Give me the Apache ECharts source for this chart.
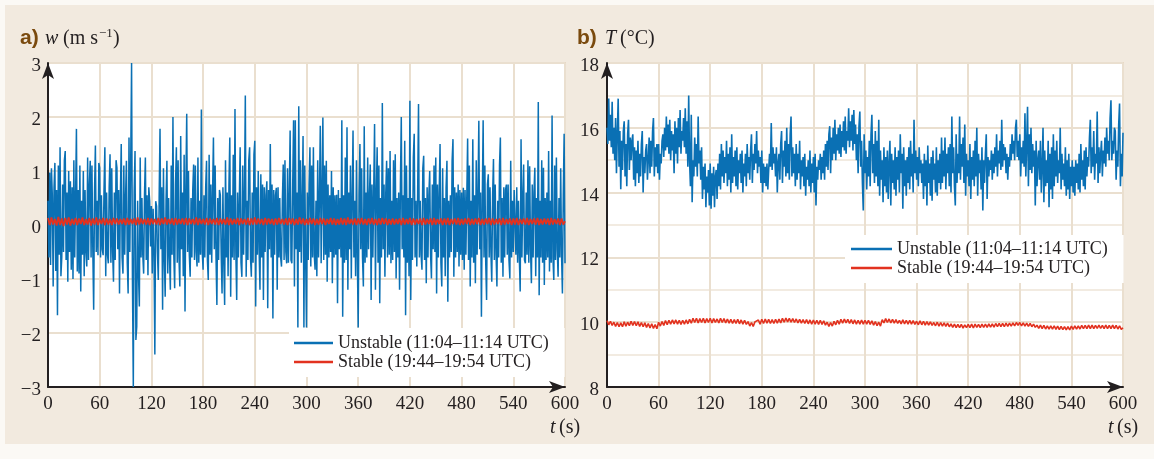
<!DOCTYPE html>
<html>
<head>
<meta charset="utf-8">
<script src="https://cdn.jsdelivr.net/npm/echarts@6.0.0/dist/echarts.min.js"></script>
<style>
  html, body { margin: 0; padding: 0; background: #fbf9f5; }
  #panel { position: absolute; left: 5px; top: 5px; width: 1149px; height: 439px; background: #f2eadf; }
  #chart { position: absolute; left: 0; top: 0; width: 1154px; height: 459px; }
</style>
</head>
<body>
<div id="panel"></div>
<div id="chart"></div>
<script>
// Time axis (s) and tick values
const timeTicks = [0, 60, 120, 180, 240, 300, 360, 420, 480, 540, 600];
const wTicks = [-3, -2, -1, 0, 1, 2, 3];
const tempTicks = [8, 10, 12, 14, 16, 18];

// Series labels
const unstableName = 'Unstable (11:04–11:14 UTC)';
const stableName = 'Stable (19:44–19:54 UTC)';

// Sampling steps (s) of the stored records
const unstableStep = 1;
const stableStep = 2;

// a) vertical velocity w (m/s), unstable case, one value per second
const wUnstable = [
  0.45,-0.6,0.97,-0.74,1.05,0.55,-1.14,0.7,1.15,-0.85,
  0.65,-1.67,1.1,-0.55,1.44,-0.95,-0.59,0.75,-0.5,1.2,
  1.37,-0.65,0.6,-1.05,1.0,-0.5,0.81,-0.83,0.7,-1.0,
  1.2,-0.6,0.5,1.78,-0.86,0.65,-0.9,1.1,-1.23,0.45,
  -0.55,1.0,-0.95,0.65,-0.5,-0.77,1.25,-0.65,0.75,1.19,
  -0.6,1.1,-0.45,-1.57,0.6,1.47,-0.5,0.45,-0.56,1.15,
  1.06,-0.6,0.55,-0.45,-0.56,0.65,1.44,-0.95,0.6,-0.55,
  -0.71,0.7,1.31,-0.7,1.05,-0.5,-1.05,0.6,-0.65,1.2,
  1.06,-0.45,0.65,-1.27,0.55,1.5,-0.6,-0.9,1.1,-0.55,
  0.5,1.19,-0.7,-1.27,1.62,-0.5,1.2,3.0,-1.0,-3.0,
  0.6,1.37,-2.13,-1.88,0.45,-0.9,-1.51,1.25,-0.6,0.5,
  -0.55,-0.9,0.55,1.25,-0.65,0.55,-0.93,0.7,0.44,-0.4,
  0.35,-0.9,0.3,-0.5,-2.4,0.44,0.35,-0.5,-1.02,0.5,
  1.78,-0.45,0.7,-1.57,1.05,-0.6,-1.33,0.45,1.19,-0.9,
  0.5,-0.6,-1.2,1.1,-0.55,2.0,-0.55,-1.17,0.75,1.44,
  -0.7,1.2,-0.6,-1.14,1.65,-0.45,0.6,-0.95,1.3,-1.6,
  0.7,2.06,-0.5,1.0,-0.55,-0.96,0.5,-0.6,0.65,1.12,
  -0.65,1.1,-0.5,-0.77,1.25,-0.7,0.45,-0.55,2.14,-0.5,
  -0.83,0.55,-0.6,0.7,1.19,-0.65,-1.02,1.3,-0.55,0.75,
  -0.7,0.6,1.62,-0.45,1.1,-0.6,-1.48,0.5,-0.65,0.65,
  0.56,-0.55,-1.27,0.7,-0.7,-1.48,1.2,-0.6,0.6,-0.95,
  0.75,1.62,-1.33,0.55,-0.6,1.3,-0.65,2.15,-0.5,-1.39,
  0.6,-0.6,0.45,1.44,-0.7,-0.96,1.1,-0.55,0.5,2.4,
  -0.96,0.45,-0.65,1.2,1.44,-0.6,-0.96,0.6,-0.7,1.3,
  1.56,-1.51,0.7,-0.55,1.0,-0.45,-1.2,0.94,-0.6,0.75,
  -1.39,0.7,-0.5,0.55,0.81,-1.54,0.65,-0.45,1.5,-0.6,
  0.75,-1.73,0.65,-0.55,0.55,0.69,-1.2,0.7,-0.6,0.5,
  -0.6,-0.77,0.45,1.12,-0.65,1.2,-0.5,-0.71,1.05,-0.7,
  0.55,1.75,-0.65,-0.71,0.75,1.94,-1.14,1.94,-0.45,0.6,
  -1.9,2.2,-0.5,1.2,-0.7,0.45,1.65,-1.9,1.1,-0.6,
  -1.9,0.6,-0.65,0.75,1.44,-0.77,1.1,-0.6,1.44,-0.55,
  -0.83,0.45,-0.95,1.2,-0.6,0.5,1.84,-0.71,0.6,1.99,
  -0.65,1.1,-0.55,1.19,-1.05,0.75,-0.6,0.55,-0.5,1.0,
  -1.08,0.7,-0.6,0.55,-0.55,0.56,-1.45,0.65,-0.45,0.5,
  -0.6,1.94,-1.7,0.55,-0.7,1.25,-0.65,1.81,-1.2,0.6,
  -0.45,1.1,-0.99,0.5,1.75,-0.6,0.45,-0.95,1.2,-0.6,
  -1.9,0.55,1.5,-0.45,1.05,-0.6,-1.14,1.83,-0.7,0.6,
  -0.6,1.25,-0.45,0.5,1.12,-1.39,0.75,-0.6,0.6,1.87,
  -1.2,0.55,1.44,-0.7,1.1,-1.45,0.5,-0.6,2.26,-0.45,
  0.75,-0.96,0.6,1.19,-0.6,1.05,-0.55,1.37,-0.71,0.45,
  -0.65,1.2,-0.5,1.31,-0.99,0.5,-0.6,0.6,-1.2,0.75,
  2.0,-0.45,0.55,-0.6,1.56,-1.67,1.1,-0.7,0.5,-0.95,
  2.3,-1.39,0.5,-0.65,1.25,1.69,-0.6,0.45,-0.77,0.6,
  2.24,-0.6,0.45,-0.55,-0.83,1.05,1.28,-0.65,0.5,-1.08,
  0.7,-0.6,0.55,1.0,-0.55,-0.99,0.75,-0.45,1.1,-0.5,
  1.25,-1.27,0.75,-0.6,0.6,1.5,-0.7,-1.14,1.05,-0.6,
  0.5,-0.95,0.7,1.19,-1.42,0.45,-0.6,0.55,-0.5,1.2,
  1.59,-0.96,0.7,-0.6,0.6,-0.5,0.75,-0.77,0.65,-0.55,
  0.6,-0.65,0.69,-0.83,0.65,-0.55,0.5,1.6,-0.65,1.1,
  -1.14,0.45,-0.6,1.59,-0.7,0.55,-1.08,1.2,-0.55,0.5,
  1.93,-0.45,0.6,-1.7,0.45,1.94,-0.6,1.1,-0.7,-1.39,
  0.75,0.94,-0.6,0.7,-0.5,-1.05,0.55,1.22,-0.65,0.75,
  -0.55,-1.14,0.45,-0.6,1.1,1.62,-0.7,0.5,-0.96,0.7,
  -0.6,0.65,0.75,-0.55,0.75,-0.65,-0.99,1.19,-0.6,0.45,
  -0.5,0.65,0.62,-0.55,0.7,-0.7,0.45,-0.6,-1.23,1.59,
  -0.6,0.5,1.12,-0.65,-0.71,0.6,-0.55,1.2,-0.7,1.09,
  -0.45,-1.08,0.75,-0.6,0.6,1.06,-0.95,0.5,-0.6,2.28,
  -1.3,0.45,-0.6,1.2,-0.7,1.06,-1.11,0.5,-0.65,0.6,
  -0.6,1.37,-0.86,0.45,-0.7,2.03,-0.6,-1.02,1.1,-0.65,
  1.25,-0.45,-0.96,0.5,-0.6,1.05,-0.55,-1.27,0.55,1.69,
  -0.71
];

// a) vertical velocity w (m/s), stable case, one value every 2 s
const wStable = [
  0.13,0.0,0.14,0.01,0.11,-0.01,0.15,0.0,0.12,-0.02,
  0.13,0.01,0.14,-0.01,0.11,0.01,0.13,0.0,0.12,0.02,
  0.14,0.0,0.11,0.01,0.13,-0.01,0.12,0.01,0.14,0.0,
  0.11,0.02,0.13,0.0,0.12,0.01,0.11,0.0,0.13,0.02,
  0.12,0.01,0.11,0.02,0.12,0.0,0.13,0.01,0.11,0.02,
  0.12,0.0,0.14,0.01,0.12,0.02,0.11,0.01,0.13,0.0,
  0.12,0.02,0.11,0.01,0.13,0.0,0.12,0.02,0.14,0.01,
  0.11,0.02,0.12,0.0,0.13,0.01,0.11,0.02,0.12,0.01,
  0.13,0.0,0.12,0.02,0.11,0.01,0.14,0.0,0.12,0.02,
  0.11,0.01,0.13,0.0,0.12,0.02,0.11,0.01,0.13,0.0,
  0.12,0.02,0.11,0.01,0.14,0.0,0.12,0.01,0.11,0.02,
  0.13,0.0,0.12,0.02,0.11,0.01,0.13,0.0,0.12,0.01,
  0.14,0.01,0.12,0.02,0.11,0.0,0.13,0.01,0.12,0.02,
  0.11,0.0,0.12,0.01,0.13,0.02,0.11,0.01,0.12,0.0,
  0.13,0.02,0.12,0.0,0.11,0.01,0.14,0.02,0.12,0.0,
  0.11,0.01,0.13,0.02,0.12,0.0,0.11,0.01,0.13,0.02,
  0.12,0.0,0.11,0.02,0.13,0.01,0.12,0.0,0.11,0.01,
  0.13,0.01,0.12,0.0,0.14,0.02,0.11,0.01,0.12,0.0,
  0.12,0.02,0.13,0.01,0.11,0.0,0.12,0.02,0.13,0.01,
  0.11,0.0,0.12,0.01,0.13,0.02,0.12,0.0,0.11,0.01,
  0.12,0.01,0.11,0.02,0.12,0.0,0.13,0.01,0.11,0.02,
  0.13,0.0,0.12,0.01,0.11,0.02,0.12,0.0,0.13,0.01,
  0.11,0.02,0.12,0.0,0.13,0.01,0.11,0.02,0.12,0.0,
  0.12,0.01,0.13,0.0,0.11,0.02,0.12,0.01,0.13,0.0,
  0.11,0.01,0.12,0.02,0.13,0.0,0.11,0.01,0.12,0.02,
  0.13,0.0,0.11,0.01,0.12,0.02,0.13,0.0,0.12,0.01,
  0.11,0.02,0.12,0.0,0.13,0.01,0.11,0.02,0.12,0.0,
  0.12,0.01,0.13,0.0,0.11,0.02,0.12,0.01,0.13,0.0,
  0.11,0.02,0.12,0.01,0.13,0.0,0.11,0.01,0.12,0.02,
  0.12,0.0,0.13,0.01,0.11,0.02,0.12,0.0,0.12,0.01,
  0.07
];

// b) temperature T (°C), unstable case, one value per second
const tUnstable = [
  16.0,15.5,16.9,15.6,16.4,15.4,16.8,15.2,16.0,15.0,
  16.3,14.6,15.8,16.9,14.8,15.9,14.1,15.6,14.7,15.9,
  16.2,14.5,15.5,14.2,15.8,16.25,14.7,15.7,15.0,15.6,
  15.8,14.4,15.4,14.2,15.3,14.6,15.6,14.3,15.2,14.5,
  15.5,15.9,14.0,15.1,14.6,15.3,15.5,14.4,15.0,15.7,
  14.6,15.6,14.8,15.9,16.3,14.5,15.4,14.8,15.5,14.6,
  15.5,14.4,15.2,14.9,15.6,15.8,15.1,16.0,15.3,16.35,
  15.4,16.1,15.2,16.25,15.0,15.9,15.3,15.8,14.6,16.2,
  15.2,16.0,14.9,16.3,15.4,16.55,15.2,15.9,15.6,16.3,
  15.4,16.6,15.2,16.2,14.8,17.0,15.0,14.2,16.4,13.7,
  15.0,14.5,15.7,14.8,15.5,14.5,16.35,14.9,15.3,14.4,
  15.4,13.8,14.8,14.1,14.9,13.55,14.5,14.0,14.7,13.6,
  14.9,13.5,14.6,13.9,14.8,13.55,14.5,14.7,13.8,14.9,
  14.2,15.2,14.1,15.5,14.5,15.3,14.3,15.1,14.6,15.6,
  14.2,15.2,14.4,15.4,14.0,15.8,14.3,15.1,14.5,15.3,
  14.2,15.4,14.1,15.0,14.6,15.2,14.3,15.3,14.0,14.9,
  14.5,15.2,14.2,15.5,14.6,15.1,14.4,15.3,15.8,14.3,
  15.2,14.7,15.5,14.9,15.9,14.6,15.3,14.8,15.1,14.3,
  15.3,14.0,14.9,14.3,14.8,14.2,14.9,14.1,14.7,15.2,
  14.8,16.15,14.7,15.4,14.9,15.2,14.5,15.4,14.0,14.9,
  15.2,14.4,15.5,15.9,14.3,15.3,14.8,15.6,14.5,16.0,
  14.6,15.5,14.4,15.8,16.35,14.5,15.4,14.6,15.2,14.2,
  15.5,14.4,15.2,14.6,15.6,14.1,15.0,14.5,15.1,14.2,
  15.2,13.9,14.8,14.4,15.0,14.2,15.3,14.0,14.9,14.3,
  15.1,14.0,15.2,13.6,14.8,14.4,15.0,14.7,15.2,14.4,
  15.1,14.6,15.3,14.4,15.5,14.8,15.6,14.7,15.8,16.05,
  14.6,15.7,15.0,16.0,15.2,16.25,15.0,15.8,15.3,16.0,
  15.2,16.1,15.1,15.9,15.4,16.2,15.3,16.35,15.2,15.9,
  15.6,16.6,15.4,16.2,15.6,16.4,15.3,16.55,15.5,16.1,
  15.0,15.8,14.6,16.05,16.5,14.8,15.6,14.3,13.45,15.8,
  14.6,15.3,14.1,15.1,14.5,15.6,14.2,15.8,16.4,14.6,
  15.5,14.3,15.9,14.5,15.6,14.2,16.25,13.9,15.3,14.4,
  15.0,13.7,15.4,14.2,15.1,14.0,15.3,13.8,14.9,15.6,
  13.6,15.2,14.3,15.0,14.1,15.4,13.9,15.1,14.4,15.3,
  14.0,15.8,14.6,15.2,13.5,15.4,14.2,15.0,13.9,15.1,
  14.3,15.4,14.1,15.6,14.5,15.2,14.0,16.25,14.6,15.3,
  14.4,15.1,14.2,15.4,14.6,15.0,14.3,14.9,13.8,15.2,
  14.2,15.0,13.6,15.45,14.3,14.9,13.9,15.1,13.75,15.3,
  14.4,14.9,14.0,15.4,13.9,15.0,14.3,15.2,14.1,15.7,
  14.3,15.3,14.5,15.7,14.1,15.2,14.6,15.4,14.2,15.5,
  14.0,16.35,14.6,15.4,14.2,13.6,15.8,14.3,15.2,14.6,
  16.35,14.4,15.5,14.8,15.7,14.3,16.1,13.9,15.2,14.5,
  15.0,14.2,15.5,13.8,15.1,14.4,15.3,14.2,15.6,14.5,
  16.0,13.9,15.2,14.6,15.0,14.1,15.4,13.45,15.0,14.3,
  15.2,15.8,13.8,15.1,14.5,15.0,14.7,15.3,14.4,15.2,
  14.6,15.4,14.8,15.8,14.5,15.3,14.9,15.6,14.7,16.25,
  14.8,15.5,15.0,15.4,14.6,15.2,14.4,15.1,14.8,15.5,
  15.0,15.8,15.2,15.6,15.0,16.0,16.25,15.1,15.6,15.0,
  15.8,14.5,15.4,14.9,15.6,14.8,16.45,14.5,15.5,16.65,
  14.2,15.8,14.7,16.0,14.6,15.5,14.8,15.3,13.6,15.6,
  14.2,15.0,15.3,14.4,15.6,14.0,14.8,16.0,13.7,15.3,
  14.2,15.0,14.3,15.6,13.55,15.2,14.1,15.4,13.8,15.8,
  14.2,15.3,14.5,15.6,14.3,15.0,14.6,16.0,14.1,15.2,
  14.4,14.9,14.2,15.4,13.9,15.0,14.1,15.2,13.8,14.8,
  14.2,15.0,14.0,14.8,13.9,15.0,14.3,14.9,14.1,15.2,
  14.0,15.5,14.4,15.0,14.2,15.3,14.1,15.4,14.5,15.1,
  14.8,15.7,16.25,14.6,15.4,14.8,15.9,14.4,15.2,14.9,
  16.5,14.3,15.4,14.6,15.2,15.6,14.5,15.3,14.9,15.7,
  14.8,16.0,15.2,15.6,15.0,16.3,16.85,15.0,15.6,15.2,
  16.0,15.9,14.4,15.3,14.8,16.1,16.75,14.2,15.2,14.5,
  15.85
];

// b) temperature T (°C), stable case, one value every 2 s
const tStable = [
  10.05,9.92,10.03,9.9,10.0,9.87,9.99,9.86,9.98,9.86,
  10.01,9.88,10.0,9.89,10.03,9.9,10.02,9.89,10.01,9.87,
  9.99,9.86,9.98,9.84,9.96,9.82,9.95,9.81,9.93,9.8,
  10.0,9.88,10.02,9.9,10.05,9.92,10.06,9.94,10.07,9.95,
  10.07,9.94,10.06,9.93,10.06,9.94,10.07,9.95,10.09,9.97,
  10.12,9.99,10.12,9.98,10.11,9.99,10.12,9.98,10.11,9.99,
  10.12,9.98,10.11,9.99,10.1,9.98,10.12,9.99,10.11,9.98,
  10.1,9.97,10.09,9.96,10.08,9.96,10.09,9.95,10.07,9.94,
  10.06,9.93,10.02,9.88,9.99,9.87,10.01,9.95,10.07,9.94,
  10.09,9.96,10.1,9.97,10.09,9.96,10.08,9.96,10.09,9.97,
  10.1,9.98,10.12,10.0,10.13,10.01,10.12,10.0,10.11,9.99,
  10.1,9.98,10.09,9.97,10.08,9.96,10.08,9.95,10.07,9.94,
  10.07,9.94,10.06,9.93,10.06,9.93,10.04,9.91,10.0,9.87,
  9.99,9.88,10.03,9.92,10.06,9.94,10.09,9.97,10.1,9.98,
  10.09,9.96,10.08,9.95,10.07,9.94,10.06,9.94,10.07,9.94,
  10.06,9.94,10.06,9.93,10.04,9.91,10.02,9.89,10.0,9.88,
  10.08,9.98,10.11,9.99,10.1,9.98,10.09,9.97,10.08,9.96,
  10.06,9.95,10.07,9.95,10.06,9.94,10.06,9.94,10.05,9.93,
  10.03,9.92,10.04,9.92,10.03,9.91,10.02,9.91,10.01,9.9,
  9.99,9.89,10.0,9.88,9.99,9.88,9.98,9.87,9.97,9.86,
  9.95,9.84,9.94,9.83,9.93,9.83,9.93,9.82,9.92,9.83,
  9.93,9.83,9.94,9.82,9.94,9.84,9.93,9.83,9.94,9.84,
  9.94,9.84,9.95,9.85,9.95,9.85,9.96,9.86,9.96,9.86,
  9.96,9.86,9.97,9.87,9.97,9.88,9.98,9.89,9.99,9.9,
  9.99,9.89,9.98,9.88,9.97,9.87,9.96,9.86,9.94,9.84,
  9.91,9.81,9.91,9.8,9.9,9.79,9.89,9.79,9.89,9.79,
  9.89,9.78,9.88,9.77,9.87,9.77,9.86,9.76,9.86,9.76,
  9.88,9.78,9.89,9.79,9.89,9.79,9.9,9.8,9.9,9.8,
  9.91,9.8,9.91,9.8,9.9,9.81,9.91,9.81,9.9,9.8,
  9.91,9.8,9.9,9.8,9.91,9.8,9.9,9.79,9.89,9.78,
  9.83
];

const BLUE = '#0a70b4';
const RED = '#e2321f';
const INK = '#231f20';
const GRID = '#eadfcf';
const GRID_MINOR = '#f2ebe1';
const SERIF = '"Liberation Serif", "DejaVu Serif", serif';

const toPairs = (arr, step) => arr.map((v, i) => [i * step, v]);
const minusFmt = v => (v < 0 ? '−' + Math.abs(v) : String(v));

function xAxisFor(gridIndex) {
  return {
    type: 'value', gridIndex,
    min: timeTicks[0], max: timeTicks[timeTicks.length - 1],
    interval: timeTicks[1] - timeTicks[0],
    axisLine: { show: true, onZero: false, lineStyle: { color: INK, width: 2 },
      symbol: ['none', 'arrow'], symbolSize: [9, 16] },
    axisTick: { show: false },
    axisLabel: { color: INK, fontFamily: SERIF, fontSize: 19, margin: 8 },
    splitLine: { show: true, lineStyle: { color: GRID, width: 2 } }
  };
}

// y tick labels sit slightly below their grid lines
const yLabel = { color: INK, fontFamily: SERIF, fontSize: 19, verticalAlign: 'top', lineHeight: 6 };

const option = {
  animation: false,
  backgroundColor: 'transparent',
  grid: [
    { left: 48, top: 63, width: 517, height: 324, show: true, backgroundColor: '#ffffff', borderColor: '#e8d9c5', borderWidth: 2 },
    { left: 607, top: 63, width: 516, height: 324, show: true, backgroundColor: '#ffffff', borderColor: '#e8d9c5', borderWidth: 2 }
  ],
  xAxis: [xAxisFor(0), xAxisFor(1)],
  yAxis: [
    {
      type: 'value', gridIndex: 0,
      min: wTicks[0], max: wTicks[wTicks.length - 1], interval: 1,
      axisLine: { show: true, onZero: false, lineStyle: { color: INK, width: 2 },
        symbol: ['none', 'arrow'], symbolSize: [9, 16] },
      axisTick: { show: false },
      axisLabel: Object.assign({ margin: 7, formatter: minusFmt }, yLabel),
      splitLine: { show: true, lineStyle: { color: GRID, width: 2 } }
    },
    {
      type: 'value', gridIndex: 1,
      min: tempTicks[0], max: tempTicks[tempTicks.length - 1], interval: 2,
      axisLine: { show: true, onZero: false, lineStyle: { color: INK, width: 2 },
        symbol: ['none', 'arrow'], symbolSize: [9, 16] },
      axisTick: { show: false },
      minorTick: { show: false, splitNumber: 2 },
      minorSplitLine: { show: true, lineStyle: { color: GRID_MINOR, width: 2 } },
      axisLabel: Object.assign({ margin: 8 }, yLabel),
      splitLine: { show: true, lineStyle: { color: GRID, width: 2 } }
    }
  ],
  legend: [
    {
      left: 289, top: 328, orient: 'vertical', selectedMode: false,
      data: [unstableName, stableName],
      backgroundColor: '#ffffff', padding: [6, 16, 6, 5], itemGap: 1,
      icon: 'rect', itemWidth: 39, itemHeight: 2.5,
      textStyle: { color: INK, fontFamily: SERIF, fontSize: 18 }
    },
    {
      left: 845, top: 235, orient: 'vertical', selectedMode: false,
      data: [unstableName, stableName],
      backgroundColor: '#ffffff', padding: [5, 16, 6, 6], itemGap: 1,
      icon: 'rect', itemWidth: 41, itemHeight: 2.5,
      textStyle: { color: INK, fontFamily: SERIF, fontSize: 18 }
    }
  ],
  series: [
    { name: unstableName, type: 'line', xAxisIndex: 0, yAxisIndex: 0, data: toPairs(wUnstable, unstableStep),
      showSymbol: false, color: BLUE, lineStyle: { color: BLUE, width: 1.5 }, z: 2 },
    { name: stableName, type: 'line', xAxisIndex: 0, yAxisIndex: 0, data: toPairs(wStable, stableStep),
      showSymbol: false, color: RED, lineStyle: { color: RED, width: 1.8 }, z: 3 },
    { name: unstableName, type: 'line', xAxisIndex: 1, yAxisIndex: 1, data: toPairs(tUnstable, unstableStep),
      showSymbol: false, color: BLUE, lineStyle: { color: BLUE, width: 1.6 }, z: 2 },
    { name: stableName, type: 'line', xAxisIndex: 1, yAxisIndex: 1, data: toPairs(tStable, stableStep),
      showSymbol: false, color: RED, lineStyle: { color: RED, width: 1.6 }, z: 3 }
  ],
  graphic: [
    // panel a) heading
    { type: 'text', left: 20, top: 28, style: { text: 'a)', font: 'bold 21px "Liberation Sans", Arial, sans-serif', fill: '#7a4a0e' } },
    { type: 'text', left: 45, top: 29, style: { text: 'w', font: 'italic 20px ' + SERIF, fill: INK } },
    { type: 'text', left: 63, top: 29, style: { text: '(m s', font: '20px ' + SERIF, fill: INK } },
    { type: 'text', left: 99, top: 27, style: { text: '−1', font: '13px ' + SERIF, fill: INK } },
    { type: 'text', left: 113, top: 29, style: { text: ')', font: '20px ' + SERIF, fill: INK } },
    // panel b) heading
    { type: 'text', left: 577, top: 28, style: { text: 'b)', font: 'bold 21px "Liberation Sans", Arial, sans-serif', fill: '#7a4a0e' } },
    { type: 'text', left: 605, top: 29, style: { text: 'T', font: 'italic 20px ' + SERIF, fill: INK } },
    { type: 'text', left: 620, top: 29, style: { text: '(°C)', font: '20px ' + SERIF, fill: INK } },
    // time axis titles
    { type: 'text', left: 550, top: 418, style: { text: 't', font: 'italic 20px ' + SERIF, fill: INK } },
    { type: 'text', left: 559, top: 418, style: { text: '(s)', font: '20px ' + SERIF, fill: INK } },
    { type: 'text', left: 1108, top: 418, style: { text: 't', font: 'italic 20px ' + SERIF, fill: INK } },
    { type: 'text', left: 1117, top: 418, style: { text: '(s)', font: '20px ' + SERIF, fill: INK } }
  ]
};

const chart = echarts.init(document.getElementById('chart'), null, { renderer: 'canvas' });
chart.setOption(option);
</script>
</body>
</html>
